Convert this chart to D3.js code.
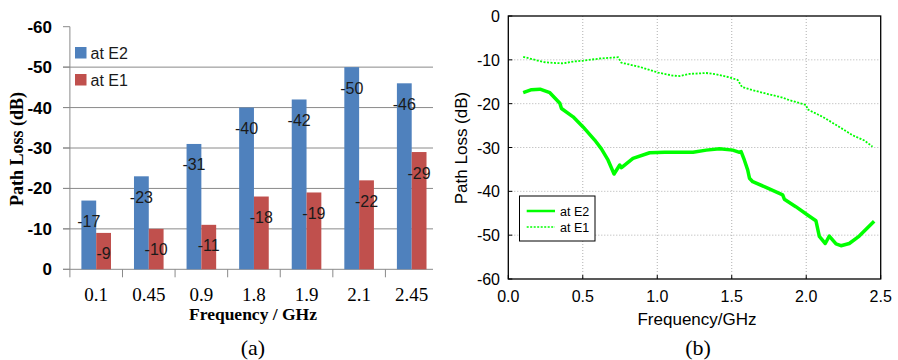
<!DOCTYPE html>
<html><head><meta charset="utf-8">
<script src="https://cdn.jsdelivr.net/npm/d3@7"></script>
<style>html,body{margin:0;padding:0;background:#fff;}svg{display:block;}</style>
</head><body>
<svg id="c" width="898" height="360"></svg>
<script>
// ---- Data: chart (a)
const categories = ["0.1","0.45","0.9","1.8","1.9","2.1","2.45"];
const barE2 = [-17,-23,-31,-40,-42,-50,-46];
const barE1 = [-9,-10,-11,-18,-19,-22,-29];
const yTicksA = [0,-10,-20,-30,-40,-50,-60];
// ---- Data: chart (b)
const e2Freq = [0.1,0.156,0.213,0.279,0.346,0.357,0.435,0.502,0.58,0.625,0.67,0.71,0.748,0.76,0.837,0.949,1.05,1.15,1.24,1.329,1.418,1.507,1.552,1.563,1.585,1.607,1.619,1.641,1.73,1.842,1.853,1.93,2.009,2.065,2.088,2.128,2.155,2.2,2.233,2.289,2.356,2.456];
const e2Loss = [-17.5,-16.8,-16.7,-17.5,-19.9,-21.1,-23.0,-25.3,-28.3,-30.3,-32.9,-36.05,-34.0,-34.6,-32.5,-31.2,-31.1,-31.1,-31.1,-30.6,-30.3,-30.6,-31.1,-30.95,-32.9,-35.1,-37.0,-37.8,-39.1,-40.8,-41.8,-43.5,-45.4,-46.7,-50.3,-51.9,-50.2,-52.0,-52.4,-51.9,-50.2,-46.8];
const e1Freq = [0.1,0.167,0.234,0.3,0.368,0.435,0.502,0.614,0.737,0.759,0.882,1.005,1.105,1.15,1.217,1.284,1.328,1.395,1.484,1.54,1.569,1.618,1.73,1.84,1.887,1.999,2.009,2.11,2.222,2.311,2.39,2.445];
const e1Loss = [-9.3,-9.9,-10.5,-10.7,-10.8,-10.4,-10.2,-9.7,-9.4,-10.65,-11.6,-12.9,-13.6,-13.7,-13.2,-13.1,-13.0,-13.3,-14.0,-14.6,-16.2,-16.7,-17.7,-18.6,-19.2,-20.3,-21.3,-23.0,-25.3,-27.2,-28.4,-29.8];
const xTicksB = [0,0.5,1.0,1.5,2.0,2.5];
const yTicksB = [0,-10,-20,-30,-40,-50,-60];

const svg = d3.select("#c");

// ================= Chart (a)
const gA = svg.append("g");
const yA = d3.scaleLinear().domain([0,-60]).range([269.3,26.7]);
const xA = d3.scaleBand().domain(categories).range([69.9,438]).padding(0);
const barW = 14.8;
const gridCol = "#8a8a8a";

gA.selectAll("line.grid").data(yTicksA.filter(d=>d!==0 && d!==-60)).enter().append("line")
  .attr("x1",63).attr("x2",433).attr("y1",d=>yA(d)).attr("y2",d=>yA(d))
  .attr("stroke",gridCol).attr("stroke-width",1);
gA.selectAll("line.yt").data(yTicksA).enter().append("line")
  .attr("x1",63).attr("x2",69.9).attr("y1",d=>yA(d)).attr("y2",d=>yA(d))
  .attr("stroke",gridCol).attr("stroke-width",1);
gA.append("line").attr("x1",69.9).attr("x2",69.9).attr("y1",yA(-60)).attr("y2",yA(0)).attr("stroke",gridCol);
gA.append("line").attr("x1",63).attr("x2",433).attr("y1",yA(0)).attr("y2",yA(0)).attr("stroke",gridCol);
gA.selectAll("line.xt").data(categories).enter().append("line")
  .attr("x1",d=>xA(d)).attr("x2",d=>xA(d)).attr("y1",yA(0)).attr("y2",yA(0)+8)
  .attr("stroke",gridCol);

const cx = d => xA(d)+xA.bandwidth()/2;
gA.selectAll("rect.e2").data(categories).enter().append("rect")
  .attr("x",d=>cx(d)-barW).attr("width",barW)
  .attr("y",(d,i)=>yA(barE2[i])).attr("height",(d,i)=>yA(0)-yA(barE2[i]))
  .attr("fill","#4F81BD");
gA.selectAll("rect.e1").data(categories).enter().append("rect")
  .attr("x",d=>cx(d)).attr("width",barW)
  .attr("y",(d,i)=>yA(barE1[i])).attr("height",(d,i)=>yA(0)-yA(barE1[i]))
  .attr("fill","#C0504D");
const lblFont = "Liberation Sans, Arial, sans-serif";
gA.selectAll("text.v2").data(categories).enter().append("text")
  .attr("x",d=>cx(d)-barW/2).attr("y",(d,i)=>yA(barE2[i])+26.5)
  .attr("text-anchor","middle").attr("font-family",lblFont).attr("font-size",16).attr("fill","#1a1a1a")
  .text((d,i)=>barE2[i]);
gA.selectAll("text.v1").data(categories).enter().append("text")
  .attr("x",d=>cx(d)+barW/2).attr("y",(d,i)=>yA(barE1[i])+26.5)
  .attr("text-anchor","middle").attr("font-family",lblFont).attr("font-size",16).attr("fill","#1a1a1a")
  .text((d,i)=>barE1[i]);
gA.selectAll("text.yl").data(yTicksA).enter().append("text")
  .attr("x",52).attr("y",d=>yA(d)+6).attr("text-anchor","end")
  .attr("font-family","Liberation Sans, Arial, sans-serif").attr("font-weight","bold").attr("font-size",17)
  .text(d=>d);
gA.selectAll("text.xl").data(categories).enter().append("text")
  .attr("x",d=>cx(d)).attr("y",301).attr("text-anchor","middle")
  .attr("font-family","Liberation Serif, Times New Roman, serif").attr("font-size",19)
  .text(d=>d);
gA.append("text").attr("x",253).attr("y",320).attr("text-anchor","middle")
  .attr("font-family","Liberation Serif, Times New Roman, serif").attr("font-weight","bold").attr("font-size",17.5)
  .text("Frequency / GHz");
gA.append("text").attr("transform","translate(23,149) rotate(-90)").attr("text-anchor","middle")
  .attr("font-family","Liberation Serif, Times New Roman, serif").attr("font-weight","bold").attr("font-size",18)
  .text("Path Loss (dB)");
const legA = [{n:"at E2",c:"#4F81BD"},{n:"at E1",c:"#C0504D"}];
legA.forEach((d,i)=>{
  gA.append("rect").attr("x",75).attr("y",47+i*27).attr("width",11.5).attr("height",11.5).attr("fill",d.c);
  gA.append("text").attr("x",90.5).attr("y",58.5+i*27).attr("font-family",lblFont).attr("font-size",16).attr("fill","#1a1a1a").text(d.n);
});
gA.append("text").attr("x",253).attr("y",355).attr("text-anchor","middle")
  .attr("font-family","Liberation Serif, Times New Roman, serif").attr("font-size",22).text("(a)");

// ================= Chart (b)
const gB = svg.append("g");
const xB = d3.scaleLinear().domain([0,2.5]).range([508.3,880.7]);
const yB = d3.scaleLinear().domain([0,-60]).range([16,279]);
gB.selectAll("line.gx").data(xTicksB.slice(1,-1)).enter().append("line")
  .attr("x1",d=>xB(d)).attr("x2",d=>xB(d)).attr("y1",yB(0)).attr("y2",yB(-60))
  .attr("stroke","#b0b0b0").attr("stroke-width",1).attr("stroke-dasharray","1,2");
gB.selectAll("line.gy").data(yTicksB.slice(1,-1)).enter().append("line")
  .attr("x1",xB(0)).attr("x2",xB(2.5)).attr("y1",d=>yB(d)).attr("y2",d=>yB(d))
  .attr("stroke","#b0b0b0").attr("stroke-width",1).attr("stroke-dasharray","1,2");
gB.selectAll("line.tx").data(xTicksB).enter().append("line")
  .attr("x1",d=>xB(d)).attr("x2",d=>xB(d)).attr("y1",yB(-60)).attr("y2",yB(-60)-4).attr("stroke","#000");
gB.selectAll("line.ty").data(yTicksB).enter().append("line")
  .attr("x1",xB(0)).attr("x2",xB(0)+4).attr("y1",d=>yB(d)).attr("y2",d=>yB(d)).attr("stroke","#000");
const line = d3.line().x(d=>xB(d[0])).y(d=>yB(d[1]));
gB.append("path").datum(e1Freq.map((f,i)=>[f,e1Loss[i]])).attr("d",line)
  .attr("fill","none").attr("stroke","#00FF00").attr("stroke-width",1.8).attr("stroke-dasharray","2,1.5");
gB.append("path").datum(e2Freq.map((f,i)=>[f,e2Loss[i]])).attr("d",line)
  .attr("fill","none").attr("stroke","#00FF00").attr("stroke-width",3.5).attr("stroke-linejoin","round");
gB.append("rect").attr("x",xB(0)).attr("y",yB(0)).attr("width",xB(2.5)-xB(0)).attr("height",yB(-60)-yB(0))
  .attr("fill","none").attr("stroke","#000").attr("stroke-width",1.3);
const fB = "Liberation Sans, Arial, sans-serif";
gB.selectAll("text.yl").data(yTicksB).enter().append("text")
  .attr("x",500).attr("y",d=>yB(d)+6).attr("text-anchor","end").attr("font-family",fB).attr("font-size",16)
  .text(d=>d);
gB.selectAll("text.xl").data(xTicksB).enter().append("text")
  .attr("x",d=>xB(d)).attr("y",302).attr("text-anchor","middle").attr("font-family",fB).attr("font-size",16)
  .text(d=>d.toFixed(1));
gB.append("text").attr("x",697).attr("y",325).attr("text-anchor","middle").attr("font-family",fB).attr("font-size",17)
  .text("Frequency/GHz");
gB.append("text").attr("transform","translate(467,148) rotate(-90)").attr("text-anchor","middle").attr("font-family",fB).attr("font-size",17)
  .text("Path Loss (dB)");
gB.append("rect").attr("x",519.5).attr("y",196).attr("width",75.5).attr("height",45)
  .attr("fill","#fff").attr("stroke","#000").attr("stroke-width",1);
const legB = [{n:"at E2",w:2.5,dash:null},{n:"at E1",w:1.5,dash:"2,1.5"}];
legB.forEach((d,i)=>{
  const l = gB.append("line").attr("x1",526.7).attr("x2",555).attr("y1",211+i*16).attr("y2",211+i*16)
    .attr("stroke","#00FF00").attr("stroke-width",d.w);
  if(d.dash) l.attr("stroke-dasharray",d.dash);
  gB.append("text").attr("x",560).attr("y",215.5+i*16).attr("font-family",fB).attr("font-size",12.5).text(d.n);
});
gB.append("text").attr("x",698).attr("y",355).attr("text-anchor","middle")
  .attr("font-family","Liberation Serif, Times New Roman, serif").attr("font-size",22).text("(b)");
</script>
</body></html>
